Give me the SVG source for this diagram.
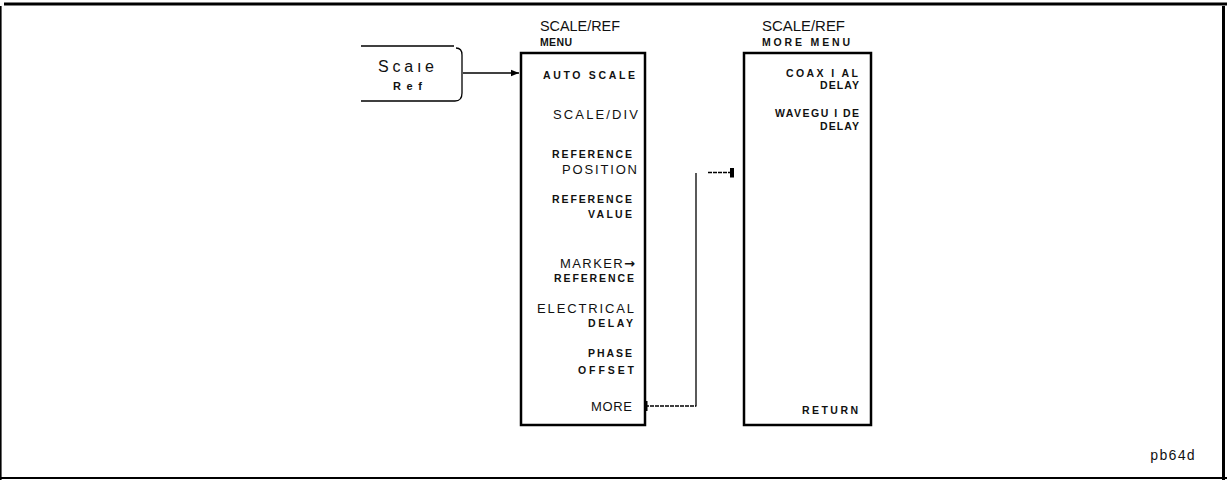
<svg xmlns="http://www.w3.org/2000/svg" width="1227" height="480" viewBox="0 0 1227 480">
<defs>
<style>
.t{font-family:"Liberation Sans",Arial,sans-serif;fill:#111}
.title{font-size:14px}
.sub{font-size:10.5px;font-weight:bold}
.lb{font-size:10.5px;font-weight:bold}
.lr{font-size:13px}
.box{fill:none;stroke:#000;stroke-width:2.5}
.ln{fill:none;stroke:#000;stroke-width:1.3}
</style>
<marker id="ah" viewBox="0 0 10 10" refX="10" refY="5" markerWidth="10" markerHeight="8" markerUnits="userSpaceOnUse" orient="auto"><path d="M0,1 L10,5 L0,9 Z" fill="#000"/></marker>
<marker id="blk" viewBox="0 0 4 10" refX="2" refY="5" markerWidth="4" markerHeight="10" markerUnits="userSpaceOnUse" orient="auto"><rect x="0" y="0" width="4" height="10" fill="#000"/></marker>
</defs>
<rect width="1227" height="480" fill="#fff"/>
<g id="frame">
<line x1="4" y1="4" x2="1227" y2="4" stroke="#000" stroke-width="3"/>
<line x1="1223.5" y1="6" x2="1223.5" y2="480" stroke="#000" stroke-width="3"/>
<line x1="0.8" y1="6" x2="0.8" y2="480" stroke="#000" stroke-width="1.6"/>
<line x1="0" y1="478" x2="1227" y2="478" stroke="#000" stroke-width="2"/>
</g>
<g id="key-scale-ref">
<path class="ln" d="M361,46 H454"/>
<path class="ln" d="M456,48 Q462,48 462,55 V93 Q462,101 455,101 H361"/>
<text class="t" x="378" y="72" style="font-size:16px" textLength="56" lengthAdjust="spacing">Scaıe</text>
<text class="t" x="393" y="90" style="font-size:11px;font-weight:bold" textLength="29" lengthAdjust="spacing">Ref</text>
</g>
<g id="menu-scale-ref">
<text class="t title" x="540" y="31" textLength="80" lengthAdjust="spacingAndGlyphs">SCALE/REF</text>
<text class="t sub" x="540" y="46" textLength="32" lengthAdjust="spacing">MENU</text>
<rect class="box" x="521" y="53" width="124" height="372"/>
<text class="t lb" x="543" y="79" textLength="92" lengthAdjust="spacing">AUTO SCALE</text>
<text class="t lr" x="553" y="119" textLength="85" lengthAdjust="spacing">SCALE/DIV</text>
<text class="t lb" x="552" y="158" textLength="80" lengthAdjust="spacing">REFERENCE</text>
<text class="t lr" x="562" y="174" textLength="75" lengthAdjust="spacing">POSITION</text>
<text class="t lb" x="552" y="203" textLength="80" lengthAdjust="spacing">REFERENCE</text>
<text class="t lb" x="588" y="218" textLength="44" lengthAdjust="spacing">VALUE</text>
<text class="t lr" x="560" y="268" textLength="75" lengthAdjust="spacing">MARKER<tspan style="font-family:'DejaVu Sans',sans-serif;font-weight:bold">→</tspan></text>
<text class="t lb" x="554" y="282" textLength="80" lengthAdjust="spacing">REFERENCE</text>
<text class="t lr" x="537" y="313" textLength="97" lengthAdjust="spacing">ELECTRICAL</text>
<text class="t lb" x="588" y="327" textLength="45" lengthAdjust="spacing">DELAY</text>
<text class="t lb" x="588" y="357" textLength="44" lengthAdjust="spacing">PHASE</text>
<text class="t lb" x="578" y="374" textLength="56" lengthAdjust="spacing">OFFSET</text>
<text class="t lr" x="591" y="411" textLength="41" lengthAdjust="spacing">MORE</text>
</g>
<g id="menu-scale-ref-more">
<text class="t title" x="762" y="31" textLength="83" lengthAdjust="spacingAndGlyphs">SCALE/REF</text>
<text class="t sub" x="762" y="46" textLength="88" lengthAdjust="spacing">MORE MENU</text>
<rect class="box" x="744" y="53" width="127" height="372"/>
<text class="t lb" x="786" y="77" textLength="72" lengthAdjust="spacing">COAX I AL</text>
<text class="t lb" x="820" y="89" textLength="39" lengthAdjust="spacing">DELAY</text>
<text class="t lb" x="775" y="117" textLength="84" lengthAdjust="spacing">WAVEGU I DE</text>
<text class="t lb" x="820" y="130" textLength="39" lengthAdjust="spacing">DELAY</text>
<text class="t lb" x="802" y="414" textLength="56" lengthAdjust="spacing">RETURN</text>
</g>
<g id="label-pb64d">
<text class="t" x="1150" y="460" style="font-family:'Liberation Mono','DejaVu Sans Mono',monospace;font-size:14px" textLength="45" lengthAdjust="spacing">pb64d</text>
</g>
<g id="connectors">
<line class="ln" x1="463" y1="73" x2="519" y2="73" marker-end="url(#ah)"/>
<line x1="645" y1="406" x2="696" y2="406" stroke="#000" stroke-width="1.3" stroke-dasharray="4,1"/>
<line x1="646.5" y1="401" x2="646.5" y2="411" stroke="#000" stroke-width="2"/>
<line class="ln" x1="696" y1="406.6" x2="696" y2="173"/>
<line x1="708" y1="172.5" x2="732" y2="172.5" stroke="#000" stroke-width="1.3" stroke-dasharray="4,1" marker-end="url(#blk)"/>
</g>
</svg>
